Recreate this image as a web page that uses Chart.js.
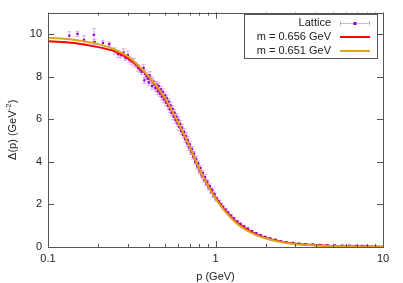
<!DOCTYPE html>
<html>
<head>
<meta charset="utf-8">
<script src="https://cdn.jsdelivr.net/npm/chart.js@4.4.1/dist/chart.umd.min.js"></script>
<style>
  html, body { margin: 0; padding: 0; background: #fff; }
  #wrap { width: 403px; height: 283px; }
</style>
</head>
<body>
<div id="wrap"><canvas id="chart" width="403" height="283"></canvas></div>
<script>
// Lattice data: momentum p (GeV), Delta(p) (GeV^-2), error
var latticeP = [0.134, 0.150, 0.164, 0.188, 0.190, 0.213, 0.232, 0.250, 0.262, 0.272,
  0.283, 0.290, 0.300, 0.305, 0.316, 0.326, 0.336, 0.345, 0.355, 0.362,
  0.372, 0.376, 0.380, 0.388, 0.395, 0.400, 0.405, 0.412, 0.418, 0.425,
  0.432, 0.438, 0.445, 0.452, 0.458, 0.465, 0.472, 0.478, 0.485, 0.492,
  0.500, 0.506, 0.512, 0.520, 0.526, 0.533, 0.540, 0.547, 0.555, 0.562,
  0.570, 0.577, 0.585, 0.592, 0.600, 0.608, 0.616, 0.624, 0.632, 0.640,
  0.650, 0.658, 0.667, 0.676, 0.685, 0.694, 0.704, 0.714, 0.724, 0.734,
  0.745, 0.756, 0.767, 0.778, 0.790, 0.802, 0.814, 0.826, 0.840, 0.853,
  0.867, 0.880, 0.895, 0.910, 0.925, 0.940, 0.956, 0.972, 0.988, 1.005,
  1.02, 1.05, 1.08, 1.11, 1.15, 1.19, 1.24, 1.29, 1.35, 1.41,
  1.48, 1.56, 1.65, 1.75, 1.86, 1.98, 2.12, 2.28, 2.45, 2.65,
  2.90, 3.15, 3.45, 3.80, 4.20, 4.65, 5.15, 5.70, 6.30, 6.90,
  7.50, 7.95];
var latticeD = [9.92, 10.00, 9.72, 9.95, 9.62, 9.58, 9.52, 9.20, 9.05, 9.00,
  9.12, 8.88, 9.00, 8.80, 8.72, 8.66, 8.55, 8.40, 8.32, 8.22,
  8.40, 7.82, 8.12, 8.02, 7.90, 7.72, 8.05, 7.85, 7.55, 7.78,
  7.62, 7.45, 7.62, 7.30, 7.55, 7.20, 7.40, 7.06, 7.28, 6.92,
  7.12, 6.78, 6.98, 6.62, 6.82, 6.46, 6.65, 6.30, 6.48, 6.12,
  6.30, 5.95, 6.12, 5.80, 5.96, 5.62, 5.78, 5.44, 5.60, 5.26,
  5.40, 5.06, 5.22, 4.86, 5.02, 4.68, 4.82, 4.46, 4.60, 4.24,
  4.38, 4.00, 4.14, 3.78, 3.92, 3.56, 3.70, 3.36, 3.48, 3.16,
  3.28, 2.98, 3.06, 2.78, 2.86, 2.60, 2.68, 2.42, 2.48, 2.26,
  2.26, 2.14, 2.00, 1.88, 1.75, 1.62, 1.47, 1.34, 1.20, 1.09,
  0.97, 0.86, 0.75, 0.65, 0.56, 0.48, 0.40, 0.34, 0.28, 0.23,
  0.19, 0.16, 0.14, 0.12, 0.10, 0.09, 0.08, 0.07, 0.06, 0.05,
  0.05, 0.04];
var latticeErr = [0.18, 0.12, 0.20, 0.30, 0.12, 0.12, 0.10, 0.15, 0.15, 0.12,
  0.18, 0.12, 0.20, 0.15, 0.15, 0.18, 0.12, 0.15, 0.12, 0.12,
  0.15, 0.15, 0.20, 0.15, 0.15, 0.15, 0.18, 0.15, 0.15, 0.15,
  0.15, 0.15, 0.15, 0.15, 0.15, 0.15, 0.15, 0.15, 0.15, 0.15,
  0.15, 0.15, 0.15, 0.15, 0.15, 0.15, 0.15, 0.15, 0.15, 0.15,
  0.15, 0.15, 0.15, 0.15, 0.15, 0.15, 0.15, 0.15, 0.15, 0.15,
  0.15, 0.15, 0.15, 0.15, 0.15, 0.15, 0.12, 0.12, 0.12, 0.12,
  0.12, 0.12, 0.12, 0.12, 0.12, 0.12, 0.12, 0.12, 0.12, 0.12,
  0.12, 0.12, 0.10, 0.10, 0.10, 0.10, 0.10, 0.10, 0.10, 0.10,
  0.06, 0.06, 0.05, 0.05, 0.05, 0.05, 0.05, 0.04, 0.04, 0.04,
  0.04, 0.04, 0.03, 0.03, 0.03, 0.03, 0.03, 0.02, 0.02, 0.02,
  0.02, 0.02, 0.02, 0.02, 0.02, 0.02, 0.02, 0.02, 0.02, 0.02,
  0.02, 0.02];

// fit curves
var curveP = [0.1, 0.12, 0.15, 0.2, 0.25, 0.3, 0.35, 0.4, 0.45, 0.5,
  0.55, 0.6, 0.65, 0.7, 0.75, 0.8, 0.9, 1.0, 1.1, 1.2,
  1.35, 1.5, 1.75, 2.0, 2.5, 3.0, 4.0, 5.0, 7.0, 10];
var redD = [9.65, 9.62, 9.55, 9.38, 9.18, 8.86, 8.43, 7.97, 7.47, 6.95,
  6.37, 5.80, 5.24, 4.70, 4.15, 3.65, 2.90, 2.32, 1.86, 1.52,
  1.12, 0.87, 0.59, 0.42, 0.24, 0.15, 0.08, 0.05, 0.03, 0.015];
var goldD = [9.82, 9.79, 9.70, 9.52, 9.27, 8.94, 8.48, 8.00, 7.50, 6.98,
  6.40, 5.83, 5.27, 4.72, 4.17, 3.66, 2.88, 2.28, 1.82, 1.47,
  1.08, 0.83, 0.56, 0.40, 0.22, 0.13, 0.07, 0.045, 0.025, 0.012];

var xTicks = [0.1, 1, 10];
var yTicks = [0, 2, 4, 6, 8, 10];
var legendLabels = ["Lattice", "m = 0.656 GeV", "m = 0.651 GeV"];

var latticeColor = "#9400d3";
var errColor = "rgba(190, 110, 235, 0.55)";
var redColor = "#ff0000";
var goldColor = "#daa520";
var fontName = "'Liberation Sans', Arial, sans-serif";

function toXY(xs, ys) {
  var out = [];
  for (var i = 0; i < xs.length; i++) {
    out.push({ x: xs[i], y: ys[i] });
  }
  return out;
}

// error bars, frame, inward ticks, legend box and y title
var decorPlugin = {
  id: "decor",
  beforeDatasetsDraw: function (chart) {
    var ctx = chart.ctx;
    var xs = chart.scales.x, ys = chart.scales.y;
    ctx.save();
    ctx.strokeStyle = errColor;
    ctx.lineWidth = 1;
    ctx.beginPath();
    for (var i = 0; i < latticeP.length; i++) {
      var px = xs.getPixelForValue(latticeP[i]);
      var y1 = ys.getPixelForValue(latticeD[i] - latticeErr[i]);
      var y2 = ys.getPixelForValue(latticeD[i] + latticeErr[i]);
      ctx.moveTo(px, y1); ctx.lineTo(px, y2);
      ctx.moveTo(px - 2, y1); ctx.lineTo(px + 2, y1);
      ctx.moveTo(px - 2, y2); ctx.lineTo(px + 2, y2);
    }
    ctx.stroke();
    ctx.restore();
  },
  afterDraw: function (chart) {
    var ctx = chart.ctx;
    var a = chart.chartArea;
    var xs = chart.scales.x, ys = chart.scales.y;
    ctx.save();
    // frame
    ctx.strokeStyle = "#555";
    ctx.lineWidth = 1;
    ctx.strokeRect(Math.round(a.left) + 0.5, Math.round(a.top) + 0.5,
      Math.round(a.right - a.left), Math.round(a.bottom - a.top));
    // ticks
    ctx.beginPath();
    yTicks.forEach(function (v) {
      var py = Math.round(ys.getPixelForValue(v)) + 0.5;
      ctx.moveTo(a.left, py); ctx.lineTo(a.left + 6, py);
      ctx.moveTo(a.right, py); ctx.lineTo(a.right - 6, py);
    });
    for (var d = 0.1; d < 10; d *= 10) {
      for (var k = 1; k <= 10; k++) {
        var v = d * k;
        if (v > 10.0001) break;
        var px = Math.round(xs.getPixelForValue(v)) + 0.5;
        var len = (k === 1 || k === 10) ? 6 : 3;
        ctx.moveTo(px, a.bottom); ctx.lineTo(px, a.bottom - len);
        ctx.moveTo(px, a.top); ctx.lineTo(px, a.top + len);
      }
    }
    ctx.stroke();

    // y title with superscript
    ctx.fillStyle = "#222";
    ctx.font = "11px " + fontName;
    ctx.textBaseline = "middle";
    var main = "\u0394(p) (GeV";
    var sup = "-2";
    var tail = ")";
    var w1 = ctx.measureText(main).width;
    ctx.font = "8px " + fontName;
    var w2 = ctx.measureText(sup).width;
    ctx.font = "11px " + fontName;
    var w3 = ctx.measureText(tail).width;
    var total = w1 + w2 + w3;
    ctx.translate(13, (a.top + a.bottom) / 2);
    ctx.rotate(-Math.PI / 2);
    ctx.textAlign = "left";
    ctx.fillText(main, -total / 2, 0);
    ctx.font = "8px " + fontName;
    ctx.fillText(sup, -total / 2 + w1, -4);
    ctx.font = "11px " + fontName;
    ctx.fillText(tail, -total / 2 + w1 + w2, 0);
    ctx.restore();

    // legend
    ctx.save();
    var lx = 244, ly = 14, lw = 133, lh = 44;
    ctx.fillStyle = "#fff";
    ctx.fillRect(lx, ly, lw, lh);
    ctx.strokeStyle = "#555";
    ctx.strokeRect(lx + 0.5, ly + 0.5, lw, lh);
    ctx.font = "11px " + fontName;
    ctx.textAlign = "right";
    ctx.textBaseline = "middle";
    ctx.fillStyle = "#222";
    var rowsY = [23, 37, 51];
    for (var r = 0; r < legendLabels.length; r++) {
      ctx.fillText(legendLabels[r], 331, rowsY[r]);
    }
    // lattice sample
    ctx.strokeStyle = errColor;
    ctx.lineWidth = 1;
    ctx.beginPath();
    ctx.moveTo(340, rowsY[0] + 0.5); ctx.lineTo(370, rowsY[0] + 0.5);
    ctx.moveTo(340.5, rowsY[0] - 2); ctx.lineTo(340.5, rowsY[0] + 3);
    ctx.moveTo(369.5, rowsY[0] - 2); ctx.lineTo(369.5, rowsY[0] + 3);
    ctx.stroke();
    ctx.fillStyle = latticeColor;
    ctx.fillRect(353.5, rowsY[0] - 1, 3, 3);
    ctx.lineWidth = 2;
    ctx.strokeStyle = redColor;
    ctx.beginPath(); ctx.moveTo(340, rowsY[1]); ctx.lineTo(370, rowsY[1]); ctx.stroke();
    ctx.strokeStyle = goldColor;
    ctx.beginPath(); ctx.moveTo(340, rowsY[2]); ctx.lineTo(370, rowsY[2]); ctx.stroke();
    ctx.restore();
  }
};

var ctx = document.getElementById("chart");
var myChart = new Chart(ctx, {
  type: "scatter",
  data: {
    datasets: [
      {
        label: legendLabels[2],
        data: toXY(curveP, goldD),
        showLine: true,
        borderColor: goldColor,
        borderWidth: 2,
        pointRadius: 0,
        cubicInterpolationMode: "monotone",
        order: 1
      },
      {
        label: legendLabels[1],
        data: toXY(curveP, redD),
        showLine: true,
        borderColor: redColor,
        borderWidth: 2,
        pointRadius: 0,
        cubicInterpolationMode: "monotone",
        order: 2
      },
      {
        label: legendLabels[0],
        data: toXY(latticeP, latticeD),
        pointStyle: "rect",
        pointRadius: 1.6,
        pointBorderWidth: 0,
        backgroundColor: latticeColor,
        borderColor: latticeColor,
        order: 3
      }
    ]
  },
  options: {
    responsive: false,
    animation: false,
    events: [],
    layout: { padding: { top: 11, right: 20, left: 0, bottom: 0 } },
    plugins: {
      legend: { display: false },
      tooltip: { enabled: false }
    },
    scales: {
      x: {
        type: "logarithmic",
        min: 0.1,
        max: 10,
        afterBuildTicks: function (scale) {
          scale.ticks = xTicks.map(function (v) { return { value: v }; });
        },
        afterFit: function (scale) { scale.height = 36; },
        grid: { display: false, drawTicks: false, tickLength: 0 },
        border: { display: false },
        ticks: {
          color: "#222",
          font: { family: fontName, size: 11 },
          padding: 5,
          maxRotation: 0,
          autoSkip: false,
          callback: function (v) { return String(v); }
        },
        title: {
          display: true,
          text: "p (GeV)",
          color: "#222",
          font: { family: fontName, size: 11 },
          padding: { top: 0, bottom: -1 }
        }
      },
      y: {
        min: 0,
        max: 11,
        afterBuildTicks: function (scale) {
          scale.ticks = yTicks.map(function (v) { return { value: v }; });
        },
        afterFit: function (scale) { scale.width = 48; },
        grid: { display: false, drawTicks: false, tickLength: 0 },
        border: { display: false },
        ticks: {
          color: "#222",
          font: { family: fontName, size: 11 },
          padding: 6
        }
      }
    }
  },
  plugins: [decorPlugin]
});
</script>
</body>
</html>
